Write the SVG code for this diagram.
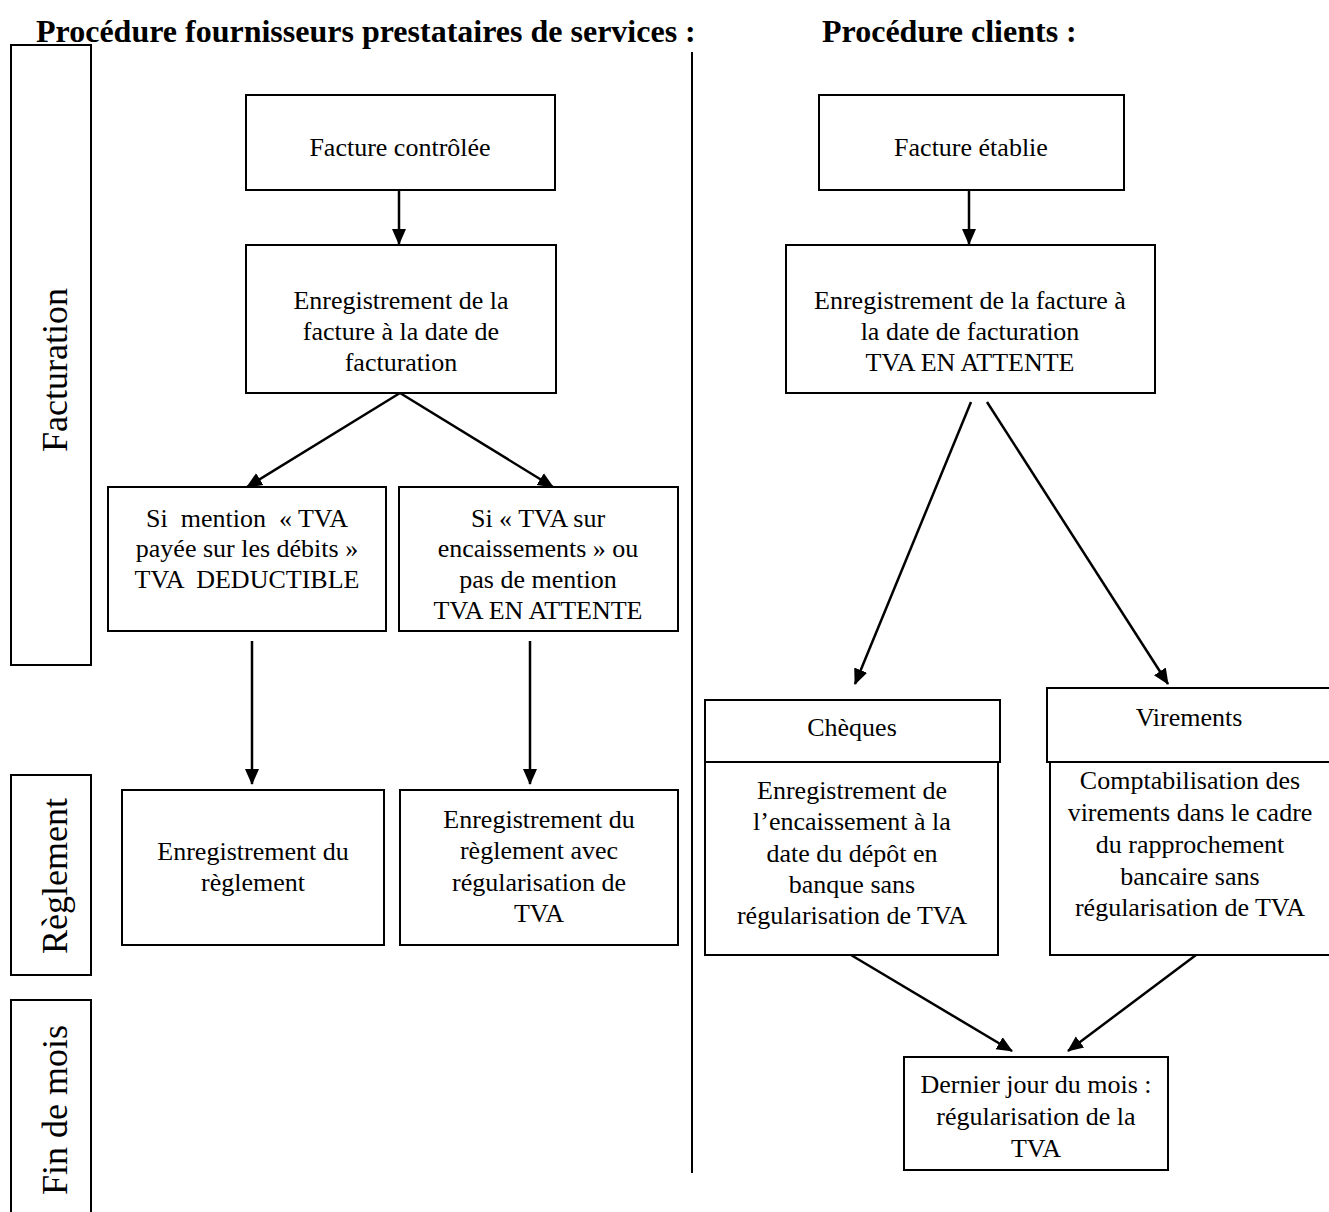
<svg xmlns="http://www.w3.org/2000/svg" width="1329" height="1212" viewBox="0 0 1329 1212">
<defs>
<marker id="ah" markerUnits="userSpaceOnUse" markerWidth="16" markerHeight="16" viewBox="0 0 16 16" refX="15" refY="8" orient="auto">
<path d="M0,1 L16,8 L0,15 Z" fill="#000"/>
</marker>
<style>
text{font-family:"Liberation Serif",Tinos,"Times New Roman","DejaVu Serif",serif;fill:#000}
.box{fill:#fff;stroke:#000;stroke-width:2}
.t{font-size:26px;text-anchor:middle}
.h{font-size:32px;font-weight:bold}
.lab{font-size:36px;text-anchor:middle}
.c{stroke:#000;stroke-width:2.5;fill:none;marker-end:url(#ah)}
</style>
</defs>
<rect width="1329" height="1212" fill="#fff"/>
<text class="h" x="36" y="42">Procédure fournisseurs prestataires de services :</text>
<text class="h" x="822" y="42">Procédure clients :</text>
<line x1="692" y1="52" x2="692" y2="1173" stroke="#000" stroke-width="2"/>

<g id="lane-facturation"><rect class="box" x="11" y="45" width="80" height="620"/><text class="lab" transform="translate(55,370) rotate(-90)" y="12">Facturation</text></g>
<g id="lane-reglement"><rect class="box" x="11" y="775" width="80" height="200"/><text class="lab" transform="translate(55,876) rotate(-90)" y="12">Règlement</text></g>
<g id="lane-finmois"><rect class="box" x="11" y="1000" width="80" height="220"/><text class="lab" transform="translate(55,1110) rotate(-90)" y="12">Fin de mois</text></g>

<g id="connectors">
<line class="c" x1="399" y1="190" x2="399" y2="244"/>
<line class="c" x1="400" y1="393" x2="247" y2="487"/>
<line class="c" x1="400" y1="393" x2="553" y2="487"/>
<line class="c" x1="252" y1="641" x2="252" y2="784"/>
<line class="c" x1="530" y1="641" x2="530" y2="784"/>
<line class="c" x1="969" y1="190" x2="969" y2="244"/>
<line class="c" x1="971" y1="402" x2="855" y2="684"/>
<line class="c" x1="987" y1="402" x2="1168" y2="684"/>
<line class="c" x1="851" y1="955" x2="1012" y2="1051"/>
<line class="c" x1="1196" y1="955" x2="1068" y2="1051"/>
</g>

<g id="n-facture-controlee"><rect class="box" x="246" y="95" width="309" height="95"/><text class="t" x="400" y="156">Facture contrôlée</text></g>
<g id="n-enreg-fournisseur"><rect class="box" x="246" y="245" width="310" height="148"/><text class="t" x="401"><tspan x="401" y="309">Enregistrement de la</tspan><tspan x="401" y="340">facture à la date de</tspan><tspan x="401" y="371">facturation</tspan></text></g>
<g id="n-tva-debits"><rect class="box" x="108" y="487" width="278" height="144"/><text class="t"><tspan x="247" y="527" xml:space="preserve">Si  mention  « TVA</tspan><tspan x="247" y="557">payée sur les débits »</tspan><tspan x="247" y="588" xml:space="preserve">TVA  DEDUCTIBLE</tspan></text></g>
<g id="n-tva-encaissements"><rect class="box" x="399" y="487" width="279" height="144"/><text class="t"><tspan x="538" y="527">Si « TVA sur</tspan><tspan x="538" y="557">encaissements » ou</tspan><tspan x="538" y="588">pas de mention</tspan><tspan x="538" y="619">TVA EN ATTENTE</tspan></text></g>
<g id="n-reglement"><rect class="box" x="122" y="790" width="262" height="155"/><text class="t"><tspan x="253" y="860">Enregistrement du</tspan><tspan x="253" y="891">règlement</tspan></text></g>
<g id="n-reglement-regul"><rect class="box" x="400" y="790" width="278" height="155"/><text class="t"><tspan x="539" y="828">Enregistrement du</tspan><tspan x="539" y="859">règlement avec</tspan><tspan x="539" y="891">régularisation de</tspan><tspan x="539" y="922">TVA</tspan></text></g>

<g id="n-facture-etablie"><rect class="box" x="819" y="95" width="305" height="95"/><text class="t" x="971" y="156">Facture établie</text></g>
<g id="n-enreg-client"><rect class="box" x="786" y="245" width="369" height="148"/><text class="t"><tspan x="970" y="309">Enregistrement de la facture à</tspan><tspan x="970" y="340">la date de facturation</tspan><tspan x="970" y="371">TVA EN ATTENTE</tspan></text></g>
<g id="n-cheques"><rect class="box" x="705" y="700" width="295" height="62"/><text class="t" x="852" y="736">Chèques</text><rect class="box" x="705" y="762" width="293" height="193"/><text class="t"><tspan x="852" y="799">Enregistrement de</tspan><tspan x="852" y="830">l’encaissement à la</tspan><tspan x="852" y="862">date du dépôt en</tspan><tspan x="852" y="893">banque sans</tspan><tspan x="852" y="924">régularisation de TVA</tspan></text></g>
<g id="n-virements"><rect class="box" x="1047" y="688" width="290" height="74"/><text class="t" x="1189" y="726">Virements</text><rect class="box" x="1050" y="762" width="287" height="193"/><text class="t"><tspan x="1190" y="789">Comptabilisation des</tspan><tspan x="1190" y="821">virements dans le cadre</tspan><tspan x="1190" y="853">du rapprochement</tspan><tspan x="1190" y="885">bancaire sans</tspan><tspan x="1190" y="916">régularisation de TVA</tspan></text></g>
<g id="n-dernier-jour"><rect class="box" x="904" y="1057" width="264" height="113"/><text class="t"><tspan x="1036" y="1093">Dernier jour du mois :</tspan><tspan x="1036" y="1125">régularisation de la</tspan><tspan x="1036" y="1157">TVA</tspan></text></g>
</svg>
